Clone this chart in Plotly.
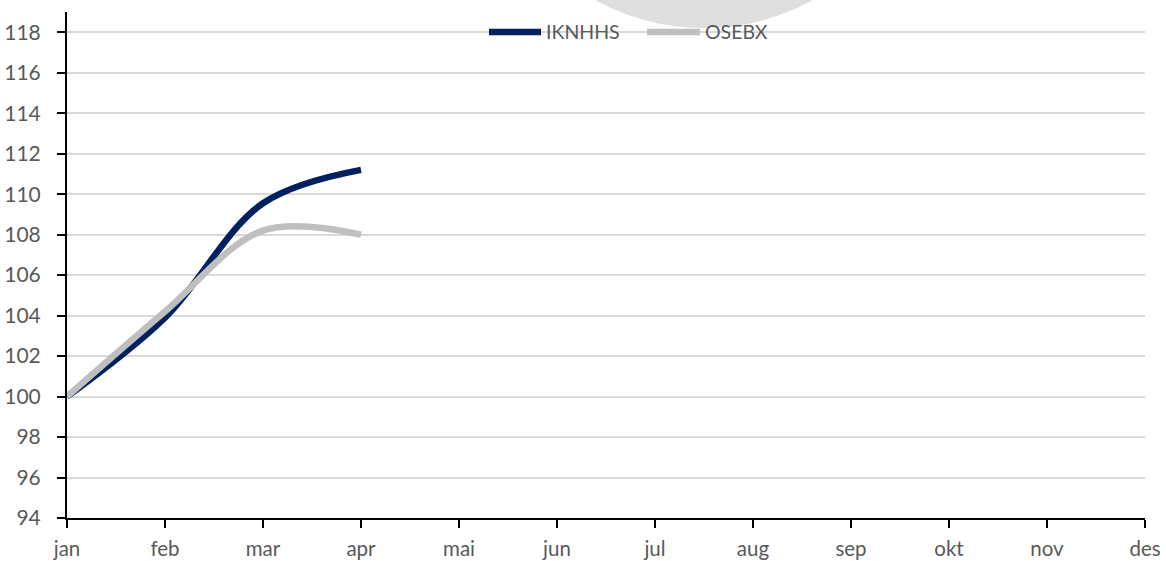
import plotly.graph_objects as go

months = ["jan", "feb", "mar", "apr", "mai", "jun", "jul", "aug", "sep", "okt", "nov", "des"]
obs_months = ["jan", "feb", "mar", "apr"]
iknhhs = [100.0, 103.9, 109.55, 111.2]
osebx = [100.0, 104.2, 108.2, 108.0]
series_names = ["IKNHHS", "OSEBX"]
series_colors = ["#002060", "#BFBFBF"]

W, H = 1166, 561
L, R, T, B = 67, 21, 12, 43
pw, ph = W - L - R, H - T - B

def px(x):
    return (x - L) / pw

def py(y):
    return (H - B - y) / ph

fig = go.Figure()
for name, vals, col in zip(series_names, [iknhhs, osebx], series_colors):
    fig.add_trace(go.Scatter(x=obs_months, y=vals, name=name, mode="lines", showlegend=False,
                             line=dict(color=col, width=6.5, shape="spline", smoothing=1)))

# decorative circle behind the chart
cx, cy, r = 704, -198, 226
fig.add_shape(type="circle", xref="paper", yref="paper",
              x0=px(cx - r), x1=px(cx + r), y0=py(cy + r), y1=py(cy - r),
              fillcolor="#DEDEDE", line=dict(width=0), layer="below")

family = "Lato, Carlito, Calibri, sans-serif"
font = dict(family=family, size=21, color="#595959")
leg_font = dict(family=family, size=19.5, color="#595959")

# legend (top centre)
leg_items = [(489, 541, 546), (647, 700, 705)]
for (x0, x1, tx), name, col in zip(leg_items, series_names, series_colors):
    fig.add_shape(type="line", xref="paper", yref="paper", x0=px(x0), x1=px(x1),
                  y0=py(32), y1=py(32), line=dict(color=col, width=6.5), layer="above")
    fig.add_annotation(xref="paper", yref="paper", x=px(tx - 2), y=py(32), text=name,
                       showarrow=False, xanchor="left", yanchor="middle", font=leg_font)

fig.update_layout(
    width=W, height=H,
    margin=dict(l=L, r=R, t=T, b=B, autoexpand=False),
    paper_bgcolor="white", plot_bgcolor="rgba(0,0,0,0)",
    font=font,
    showlegend=False,
    xaxis=dict(type="category", categoryorder="array", categoryarray=months,
               range=[0, 11], showgrid=False, showline=True, linecolor="black", linewidth=2,
               ticks="outside", ticklen=8, tickwidth=2, tickcolor="black",
               ticklabelstandoff=3, tickfont=dict(family=family, size=20.5, color="#595959"),
               zeroline=False, fixedrange=True),
    yaxis=dict(range=[94, 119], dtick=2, tick0=94, showgrid=True, gridcolor="#D9D9D9",
               gridwidth=2, showline=True, linecolor="black", linewidth=2,
               ticks="outside", ticklen=8, tickwidth=2, tickcolor="black",
               ticklabelstandoff=12, tickfont=font, zeroline=False, fixedrange=True),
)
fig.write_html("out.html", config={"displayModeBar": False},
               post_script="document.body.style.margin='0';document.body.style.overflow='hidden';")
